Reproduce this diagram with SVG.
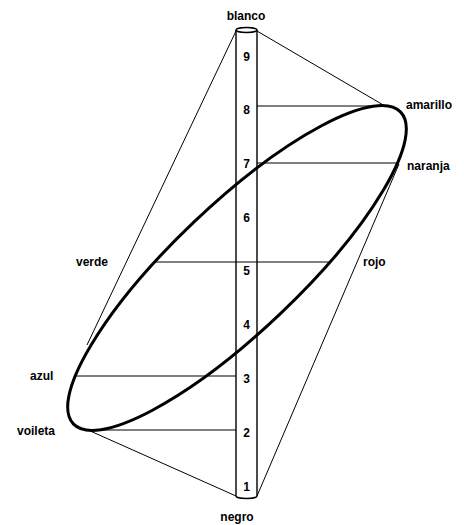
<svg xmlns="http://www.w3.org/2000/svg" width="464" height="525" viewBox="0 0 464 525">
<style>
.thin{stroke:#000;stroke-width:1;fill:none}
.cyl{stroke:#000;stroke-width:1.4;fill:none}
.ring{stroke:#000;stroke-width:3;fill:none}
.lbl{font-family:"Liberation Sans",Arial,sans-serif;font-size:12px;font-weight:bold;fill:#000}
.num{font-family:"Liberation Sans",Arial,sans-serif;font-size:12px;font-weight:bold;fill:#000;text-anchor:middle}
</style>
<rect width="464" height="525" fill="#fff"/>
<g id="connectors">
<line class="thin" x1="257" y1="31" x2="385" y2="106"/>
<line class="thin" x1="236" y1="31" x2="87" y2="345"/>
<line class="thin" x1="257" y1="496" x2="399" y2="164"/>
<line class="thin" x1="88" y1="430" x2="236" y2="496"/>
<line class="thin" x1="257" y1="106" x2="385" y2="106"/>
<line class="thin" x1="257" y1="163" x2="397" y2="163"/>
<line class="thin" x1="155" y1="262" x2="330" y2="262"/>
<line class="thin" x1="74" y1="376" x2="236" y2="376"/>
<line class="thin" x1="88" y1="430" x2="236" y2="430"/>
</g>
<g id="cylinder">
<path class="cyl" d="M236,30 L236,496 A10.5,2.5 0 0 0 257,496 L257,30"/>
<ellipse class="cyl" cx="246.5" cy="30" rx="10.5" ry="2.5"/>
<text class="num" x="246.5" y="61">9</text>
<text class="num" x="246.5" y="114">8</text>
<text class="num" x="246.5" y="168">7</text>
<text class="num" x="246.5" y="222">6</text>
<text class="num" x="246.5" y="275">5</text>
<text class="num" x="246.5" y="329">4</text>
<text class="num" x="246.5" y="383">3</text>
<text class="num" x="246.5" y="437">2</text>
<text class="num" x="246.5" y="491">1</text>
</g>
<g id="hue-ring">
<ellipse class="ring" cx="237" cy="268" rx="226" ry="63" transform="rotate(-43.6 237 268)"/>
</g>
<g id="blanco"><text class="lbl" x="246" y="20" text-anchor="middle">blanco</text></g>
<g id="negro"><text class="lbl" x="237" y="521" text-anchor="middle">negro</text></g>
<g id="amarillo"><text class="lbl" x="406" y="109">amarillo</text></g>
<g id="naranja"><text class="lbl" x="407" y="170">naranja</text></g>
<g id="rojo"><text class="lbl" x="363" y="266">rojo</text></g>
<g id="verde"><text class="lbl" x="76" y="266">verde</text></g>
<g id="azul"><text class="lbl" x="30" y="380">azul</text></g>
<g id="voileta"><text class="lbl" x="17" y="435">voileta</text></g>
</svg>
